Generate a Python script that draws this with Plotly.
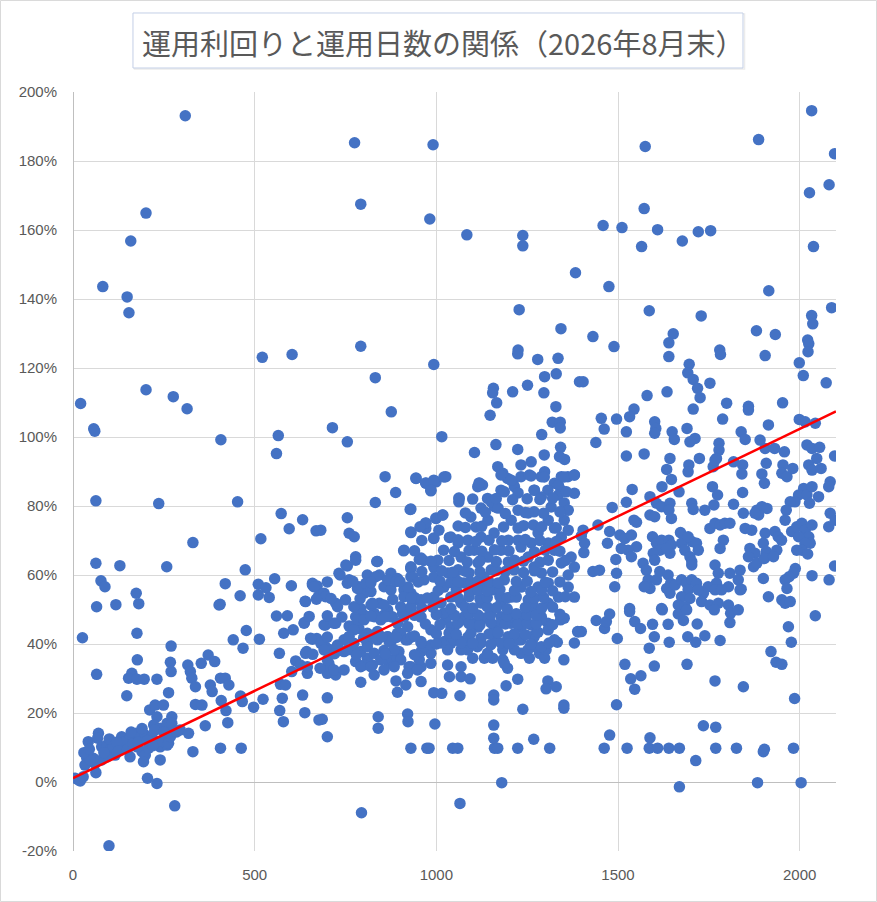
import plotly.graph_objects as go

# 運用日数 (days) / 運用利回り (%), grouped by area of the chart

# high outliers, roughly 100% and above
days_high = [309, 201, 159, 82, 149, 154, 775, 991, 792, 982, 1084, 1238, 1238, 1383, 1228, 1343, 792, 1225,
             2033, 1887, 1575, 2096, 2081, 2027, 1572, 1459, 1511, 1609, 1721, 1755, 1565, 1677, 2038, 1475,
             1915, 1586, 1729, 2088, 2033, 2036, 1431, 1652, 1640, 1881, 1933, 1489, 2022, 2025, 1780,
             521, 603, 201, 21, 276, 314, 57, 60, 407, 565, 560,
             993, 832, 876, 714, 755, 1015, 1224, 1279, 1335, 1330, 1298, 1394, 1251, 1157, 1155, 1210, 1296,
             1166, 1329, 1148, 1319, 1341, 1341, 1290,
             1640, 1782, 1905, 2023, 1999, 2010, 1696, 1692, 1707, 1753, 1404, 2073, 1719, 1726, 1635, 1580,
             1799, 1859, 1859, 1953, 1544, 1532, 1707, 1454, 1496, 1462, 1788, 1601, 1604, 1601, 1523, 1649,
             1655, 1690, 1712, 1698, 1839, 1850, 1914, 1999, 2015, 2043]
rate_high = [193.1, 164.9, 156.8, 143.6, 140.6, 136.0, 185.3, 184.7, 167.5, 163.2, 158.6, 158.4, 155.4, 147.6, 136.9, 131.4, 126.3, 125.2,
             194.6, 186.2, 184.2, 182.1, 173.1, 170.8, 166.2, 161.3, 160.7, 160.1, 159.5, 159.8, 155.2, 156.8, 155.2, 143.6,
             142.4, 136.6, 135.1, 137.5, 135.2, 132.8, 129.1, 129.9, 127.3, 130.8, 129.7, 126.2, 128.1, 127.0, 125.2,
             123.1, 123.9, 113.7, 109.7, 111.7, 108.2, 102.4, 101.7, 99.2, 100.4, 95.2,
             121.0, 117.2, 107.3, 102.7, 98.6, 100.1, 124.1, 122.5, 122.8, 118.3, 117.5, 116.0, 115.0, 114.1, 112.8, 113.1, 112.8,
             109.9, 108.8, 106.3, 104.3, 104.3, 102.6, 100.7,
             123.3, 123.9, 123.6, 124.7, 121.5, 117.8, 121.1, 118.6, 116.7, 115.6, 116.0, 115.7, 114.1, 111.4, 113.1, 112.0,
             109.8, 108.9, 107.8, 109.9, 108.1, 105.9, 108.1, 105.4, 105.2, 102.3, 105.2, 104.4, 102.5, 101.1, 101.5, 101.5,
             99.3, 102.5, 99.6, 98.6, 101.5, 99.3, 103.5, 105.1, 104.4, 104.0]

# right side, 50-100%
days_right = [1439, 1778, 1778, 1771, 1891, 1905, 1931, 1958, 2020, 2034, 2055, 1523, 1572, 1643, 1724, 1818, 1843,
              1908, 1954, 1951, 1965, 1981, 2047, 2025, 2034, 2059, 2096, 1634, 1647, 1695, 1693, 1762, 1767, 1896,
              1903, 1841, 2084, 2080, 1621, 1668, 1539, 1588, 1760, 1774, 1843, 2011, 1997, 2020, 2034, 2052, 2027,
              1987, 1974, 1484, 1523, 1606, 1620, 1643, 1640, 1647, 1588, 1601, 1551, 1544, 1703, 1707, 1739, 1764,
              1818, 1845, 1882, 1896, 1910, 1887, 1877, 1963, 1960, 2084, 2080, 2098, 1404, 1399, 1408, 1406, 1445,
              1477, 1471, 1505, 1519, 1537, 1551, 1528, 1509, 1537, 1494, 1595, 1606, 1620, 1615, 1597, 1601, 1640,
              1647, 1643, 1634, 1672, 1675, 1684, 1703, 1693, 1716, 1721, 1698, 1703, 1703, 1753, 1767, 1781, 1794,
              1808, 1790, 1781, 1767, 1776, 1771, 1808, 1836, 1831, 1839, 1850, 1868, 1863, 1877, 1859, 1873, 1882,
              1905, 1900, 1908, 1932, 1941, 1950, 1937, 1903, 1928, 1978, 1992, 2006, 2015, 2025, 1997, 2034, 2029,
              2015, 2006, 2022, 1992, 2096, 1988, 1983, 1971, 1960, 1965, 2081, 2034, 1900, 1914, 1951, 1960, 1974,
              1804, 1836, 1748, 1767, 1785, 1735, 1730, 1753, 1776, 1804, 1569, 1578, 1583, 1578, 1588, 1606, 1615,
              1638, 1645, 1634, 1643, 1657, 1675, 1689, 1703, 1716, 1693, 1675, 1698, 1721, 1666, 1620, 1684, 1532,
              1491, 1496, 1431, 1449, 1572]
rate_right = [98.4, 98.2, 96.2, 93.8, 99.1, 96.7, 96.7, 95.7, 97.7, 96.7, 97.0, 94.5, 95.1, 93.8, 93.8, 92.8, 91.9,
              92.4, 91.9, 89.5, 88.5, 90.9, 93.8, 91.9, 90.4, 90.9, 94.5, 90.6, 87.7, 91.9, 89.9, 91.4, 93.3, 89.3,
              86.6, 89.3, 87.0, 85.6, 85.6, 84.1, 84.8, 82.7, 85.6, 83.2, 83.9, 85.1, 83.2, 83.2, 85.6, 82.7, 80.8,
              81.2, 81.2, 79.6, 81.1, 80.8, 79.8, 80.8, 78.8, 76.4, 77.4, 76.9, 75.3, 75.9, 80.8, 79.0, 78.8, 80.3,
              80.5, 77.9, 78.8, 79.8, 79.3, 77.4, 77.9, 78.8, 75.9, 77.9, 74.0, 75.9, 73.0, 71.3, 69.2, 66.5, 74.5,
              72.6, 69.2, 71.6, 70.6, 71.6, 68.2, 67.2, 67.7, 65.3, 64.5, 71.1, 69.2, 70.1, 67.2, 66.3, 64.3, 70.1,
              68.7, 66.3, 67.7, 72.3, 69.2, 67.2, 69.7, 71.1, 69.2, 67.2, 65.3, 63.9, 62.9, 73.5, 75.0, 74.5, 75.0,
              75.0, 70.1, 67.7, 62.9, 60.5, 57.6, 60.5, 61.4, 58.6, 55.9, 73.5, 73.0, 67.7, 66.3, 65.3, 62.4, 63.4,
              72.1, 69.2, 66.8, 72.6, 71.1, 70.1, 67.2, 64.8, 65.3, 72.6, 74.0, 75.0, 73.0, 71.1, 71.1, 74.5, 69.2,
              69.2, 67.2, 66.1, 67.2, 62.6, 61.9, 60.5, 59.5, 58.6, 56.1, 58.6, 59.8, 59.0, 53.7, 52.8, 51.8, 52.3,
              56.6, 55.7, 56.6, 55.7, 55.7, 54.7, 52.3, 51.3, 51.8, 51.3, 63.4, 61.4, 58.6, 57.1, 56.1, 58.6, 61.0,
              60.0, 57.6, 56.1, 54.7, 57.1, 58.6, 57.6, 58.6, 57.6, 55.7, 53.7, 53.2, 55.7, 51.3, 50.3, 50.8, 50.3,
              56.6, 60.5, 61.0, 61.4, 56.6]

# right side, below 50%
days_right_low = [2043, 1440, 1463, 1468, 1477, 1498, 1399, 1532, 1546, 1562, 1595, 1600, 1586, 1600, 1622, 1638,
                  1641, 1666, 1680, 1689, 1692, 1714, 1718, 1739, 1765, 1781, 1808, 1810, 1831, 1519, 1535, 1563,
                  1546, 1496, 1690, 1767, 1845, 1921, 1935, 1951, 1969, 1977, 1986, 1477, 1588, 1735, 1769, 1462,
                  1525, 1586, 1609, 1640, 1669, 1769, 1826, 1903, 1983, 1900, 1714, 1669, 1884, 2004]
rate_right_low = [48.2, 46.8, 44.5, 46.5, 48.7, 41.6, 43.6, 49.4, 46.5, 44.5, 45.7, 42.1, 38.8, 33.6, 49.9, 45.7,
                  40.5, 48.7, 46.8, 49.9, 42.1, 40.5, 45.8, 42.4, 49.9, 41.0, 46.2, 48.9, 49.9, 34.1, 29.9, 30.8,
                  26.9, 22.4, 34.1, 29.3, 27.6, 37.8, 34.7, 34.1, 45.0, 40.5, 24.2, 13.6, 12.8, 16.3, 15.9, 9.8,
                  9.8, 9.8, 9.8, 9.8, 9.8, 9.8, 9.8, 9.5, 9.8, 8.8, 6.2, -1.4, -0.2, -0.2]

# middle, below the dense core
days_mid_low = [794, 1065, 1180, 930, 974, 980, 1045, 1059, 1160, 1169, 1224, 1312, 1268, 1158, 1158, 700, 840, 840,
                921, 922, 996, 686, 1238, 1351, 1351, 700, 1065, 1158, 1158, 1192, 792, 893, 916, 889, 958, 993,
                1015, 1224, 1307, 1302, 1330, 1036, 1068, 1093, 1068, 1031, 700, 723, 704, 709, 829, 824, 810, 870,
                879, 897, 893, 925, 958, 953, 985, 985, 958, 778, 801, 769, 792, 773, 856, 875, 916, 1100, 1132,
                1155, 1183, 1196, 1187, 1233, 1256, 1284, 1298, 1302, 1270, 1333, 1351, 1342, 1389, 695, 723, 760,
                787, 695, 709, 728, 746, 967, 985, 958, 1022, 1040, 1068, 1086, 1113,
                778, 801, 829, 856, 879, 907, 838, 866, 893, 810, 824,
                1026, 1049, 1077, 1105, 1132, 1160, 1178, 1206, 1233, 1261, 1289, 1307, 1270, 1233, 1197, 1160,
                1123, 1086, 1049, 1031, 1068, 1141, 1183, 1215, 1252, 1289]
rate_mid_low = [-8.9, -6.2, -0.2, 9.8, 9.8, 9.8, 9.8, 9.8, 9.8, 9.8, 9.8, 9.8, 12.4, 12.7, 16.5, 13.1, 18.9, 15.6,
                19.7, 17.5, 16.8, 18.2, 21.1, 22.3, 21.4, 24.4, 25.0, 25.2, 23.8, 27.9, 28.9, 26.0, 28.1, 29.3, 29.1, 25.9,
                25.7, 29.8, 29.3, 27.0, 27.6, 30.5, 30.5, 29.9, 33.4, 33.9, 31.5, 31.0, 34.4, 33.0, 31.0, 33.9, 35.9, 34.4,
                35.4, 37.8, 35.9, 33.4, 33.4, 35.4, 34.4, 37.3, 37.8, 34.9, 33.9, 38.3, 37.8, 40.2, 38.1, 40.7, 41.2, 35.9, 35.9,
                35.9, 35.4, 33.0, 34.4, 37.3, 35.9, 37.3, 35.9, 38.3, 39.2, 40.5, 35.4, 47.0, 43.6, 45.5, 46.0, 45.2,
                44.5, 39.2, 38.3, 39.7, 37.8, 39.2, 39.7, 40.7, 40.7, 40.2, 40.7, 38.3, 39.2,
                47.9, 48.4, 48.9, 48.4, 47.9, 48.9, 43.6, 42.1, 43.1, 40.2, 42.1,
                47.0, 45.0, 47.9, 46.0, 47.5, 45.0, 47.9, 46.0, 47.9, 45.5, 47.9, 46.0, 42.6, 41.2, 42.1, 42.1,
                41.7, 41.2, 41.2, 38.3, 38.3, 37.3, 38.3, 38.3, 38.3, 39.2]

# left side, short terms
days_left = [63, 236, 453, 573, 632, 595, 669, 330, 517, 63, 129, 258, 474, 77, 88, 174, 181, 118, 65, 419, 460, 402,
             405, 510, 531, 510, 540, 555, 601, 639, 659, 672, 676,
             99, 280, 205, 231, 15, 6, 20, 26, 176, 65, 148, 177, 162, 153, 176, 196, 231, 270, 268, 270, 263, 211,
             226, 231, 249, 222, 240, 259, 272, 272, 316, 323, 327, 337, 353, 372, 390, 378, 383, 406, 419, 429, 337,
             355, 408, 421, 364, 426, 330, 406, 463, 441, 468, 477, 513, 461, 466, 497, 523, 560, 590, 637, 580, 606,
             659, 671, 568, 613, 626, 643, 645, 602, 571, 585, 576, 569, 579, 632, 638, 677, 680,
             42, 70, 68, 38, 52, 33, 61, 63, 79, 93, 102, 116, 111, 134, 143, 157, 174, 185, 199, 217, 176, 190, 199,
             194, 157, 139, 240, 259, 240, 208, 93, 79, 56, 47, 28, 212, 231, 249, 263, 268, 263, 295, 318,
             30, 45, 85, 100, 120, 125, 150, 165, 180, 205, 220, 225, 250, 285, 190, 160]
rate_left = [81.5, 80.7, 81.2, 77.8, 76.0, 73.4, 72.8, 69.4, 70.5, 63.4, 62.7, 62.4, 61.5, 58.3, 56.6, 54.7, 51.7, 51.4,
             50.8, 57.5, 54.0, 51.3, 51.5, 57.3, 56.3, 54.2, 53.5, 58.9, 56.9, 52.4, 57.1, 56.8, 53.9,
             -18.5, -6.9, 1.1, -0.4, 0.6, 1.1, 0.3, 41.8, 43.1, 31.2, 25.0, 35.4, 31.5, 30.1, 29.8, 29.8, 29.8, 39.4,
             34.7, 32.0, 25.9, 20.9, 22.3, 18.9, 22.3, 16.5, 15.6, 17.0, 18.9, 17.0, 33.9, 32.0, 30.1, 27.6, 34.4,
             36.8, 34.9, 28.1, 26.2, 30.1, 30.1, 28.1, 22.5, 22.3, 23.6, 20.7, 16.3, 17.2, 8.8, 9.8, 9.8, 41.2, 38.8,
             43.9, 41.4, 24.9, 23.3, 21.7, 24.0, 48.1, 48.2, 46.2, 43.1, 44.1, 41.4, 41.6, 37.3, 35.1, 33.9, 37.8,
             31.5, 32.0, 28.3, 28.1, 24.3, 20.7, 17.5, 25.2, 20.1, 18.0, 33.0,
             11.7, 14.1, 12.7, 6.9, 5.9, 4.9, 5.4, 2.7, 10.2, 10.7, 9.3, 7.8, 10.2, 13.1, 11.7, 12.7, 14.1, 13.1,
             13.6, 13.1, 10.2, 8.8, 7.8, 5.9, 7.3, 11.2, 10.2, 10.7, 6.4, 9.8, 7.3, 6.4, 6.9, 6.4, 1.5, 11.7, 11.7,
             11.7, 11.2, 13.1, 14.1, 15.1, 14.1,
             8.5, 9.5, 8.5, 12.5, 11.5, 9.0, 9.5, 11.0, 11.5, 12.0, 10.5, 15.0, 14.5, 14.5, 15.5, 14.5]

# middle, 30-100%
days_mid = [859, 944, 971, 999, 1026, 985, 888, 832, 928, 755, 1063, 1062, 1118, 1127, 1183, 1196, 971, 971, 999,
            1017, 930, 760, 774, 993, 1036, 910, 778, 836, 953, 965, 755, 682, 735, 930, 1105, 1164, 1224, 1342,
            1297, 1353, 1339, 1261, 1233,
            751, 778, 838, 930, 732, 760, 810, 843, 875, 893, 930, 659, 691, 640, 663, 728, 787, 801, 820, 856, 875,
            911, 930, 948, 792, 820, 843, 866, 902, 930, 636, 691, 718, 764, 783, 801, 829, 847, 875, 893, 921, 654,
            682, 746, 773, 810, 838, 866, 902, 921, 640, 691, 728, 755, 810, 829, 847, 870, 884, 902, 930, 645, 700,
            718, 746, 792, 820, 856, 884, 921, 948,
            695, 755, 783, 806, 833, 866, 889, 911, 824, 856, 723, 773,
            1169, 1211, 1233, 1256, 1289, 1298, 1325, 1344, 1362, 1380, 1215, 1270, 1307, 1344, 1380, 1178, 1141,
            1160, 1114]
rate_mid = [88.5, 88.0, 86.6, 87.0, 88.5, 84.4, 83.9, 81.0, 79.0, 76.6, 82.2, 81.2, 86.6, 86.1, 89.5, 88.0, 75.0, 73.5, 76.4,
            77.4, 72.3, 72.1, 71.1, 70.6, 70.9, 67.0, 65.3, 63.9, 64.5, 64.2, 62.6, 73.0, 60.0, 61.9, 95.5, 97.8, 96.4, 97.0,
            94.8, 93.5, 94.3, 92.8, 91.9,
            62.9, 64.3, 63.9, 62.4, 60.5, 58.6, 60.0, 60.0, 60.5, 59.0, 59.5, 57.6, 54.7, 52.3, 56.6, 50.8, 56.6, 54.7, 55.2, 56.6, 55.7,
            55.7, 54.7, 52.8, 50.3, 51.3, 51.8, 49.9, 50.8, 49.9, 46.0, 45.5, 46.0, 45.0, 47.0, 47.0, 47.9, 47.0, 47.9, 46.0, 45.0, 41.7,
            40.2, 41.2, 44.1, 43.1, 41.2, 42.1, 43.1, 41.2, 37.3, 38.3, 39.2, 38.3, 39.2, 37.3, 35.4, 40.7, 38.3, 35.4, 33.4, 33.4, 35.4,
            32.5, 32.5, 33.4, 33.4, 32.5, 33.4, 31.5, 32.5,
            53.7, 57.6, 56.1, 57.6, 59.5, 58.6, 58.1, 53.7, 51.8, 51.3, 51.8, 50.8,
            91.4, 87.0, 88.5, 89.0, 88.5, 89.9, 86.6, 88.5, 88.5, 89.0, 85.6, 84.6, 84.6, 84.6, 83.7, 84.6, 82.2,
            79.8, 85.6]

# dense core around 900-1400 days
days_core = [944, 971, 993, 1021, 1118, 1178, 1206, 1261, 1297, 1336, 1352, 1380,
             985, 1062, 1187, 1225, 1269, 1289, 1336, 1358, 1352, 930, 1151, 1123, 1170, 1225, 1269, 1316,
             971, 999, 1018, 930, 993, 1007, 1040, 1095, 1109, 1142, 1087, 1123, 1159, 1206, 1225, 1198, 1253, 1267,
             1280, 1308, 1325, 1344, 1352, 1363, 1225, 1261, 1308, 1363,
             911, 958, 930, 935, 993, 1004, 1060, 1068, 1060, 1104, 1115, 1142, 1151, 1178, 1198, 1214, 1233, 1253,
             1269, 1289, 1308, 1325, 1344, 1371, 1380, 1363, 1131, 1090, 1032,
             922, 966, 993, 1021, 1049, 1076, 1104, 1131, 1159, 1187, 1206, 1233, 1253, 1280, 1308, 1336, 1363, 1380,
             1308, 1269, 1178, 1123, 1068, 1013, 958, 993, 930,
             911, 958, 985, 1021, 1040, 1068, 1087, 1115, 1142, 1159, 1178, 1206, 1233, 1261, 1289, 1308, 1269, 1225,
             1178, 1123, 1068, 1013, 958, 1325, 1352, 1391, 1380, 930]
rate_core = [88.1, 86.7, 87.5, 88.4, 86.7, 89.0, 87.5, 88.7, 88.4, 86.1, 88.4, 89.0,
             84.6, 82.3, 84.1, 83.8, 84.6, 82.6, 83.2, 84.1, 80.9, 79.1, 81.2, 79.4, 79.4, 78.8, 78.3, 79.7,
             75.1, 76.5, 77.4, 72.5, 70.7, 73.0, 71.0, 76.8, 73.9, 75.9, 70.1, 71.0, 72.2, 75.9, 73.6, 70.1, 78.0, 74.5,
             72.2, 75.9, 73.6, 71.0, 75.9, 78.8, 70.1, 69.3, 69.3, 73.0,
             67.2, 64.9, 62.0, 59.4, 62.3, 64.3, 69.3, 65.2, 61.5, 67.2, 63.5, 65.2, 61.5, 67.2, 63.8, 61.5, 68.1, 65.2,
             62.3, 60.6, 64.3, 67.2, 63.5, 65.2, 62.3, 60.0, 59.4, 60.6, 60.6,
             56.5, 58.6, 59.4, 56.5, 59.4, 57.7, 55.7, 57.7, 55.7, 58.6, 53.6, 56.5, 52.8, 56.5, 57.7, 53.6, 56.5, 53.6,
             51.9, 50.7, 51.9, 51.9, 51.9, 51.9, 52.8, 53.6, 50.7,
             47.8, 47.8, 44.1, 49.0, 44.9, 47.0, 42.0, 44.9, 47.8, 43.2, 46.1, 47.8, 44.9, 49.0, 47.0, 44.1, 42.0, 41.2,
             40.3, 40.3, 40.3, 40.3, 40.3, 41.2, 47.5, 43.5, 40.3, 42.0]

# extra points hidden inside the solid-looking parts of the core
days_core_fill = [1000, 1035, 1055, 1095, 1145, 1170, 1215, 1245, 1280,
                  970, 1010, 1060, 1090, 1120, 1150, 1190, 1225, 1250, 1275, 1320,
                  1000, 1050, 1090, 1115, 1150, 1195, 1220, 1250, 1275, 1340,
                  960, 990, 1040, 1080, 1100, 1140, 1165, 1195, 1245, 1290, 1320,
                  940, 975, 1040, 1060, 1090, 1120, 1140, 1175, 1195, 1220, 1270, 1295, 1355,
                  1005, 1055, 1090, 1115, 1140, 1175, 1215, 1260, 1290, 1320,
                  950, 1010, 1040, 1060, 1095, 1115, 1145, 1170, 1220, 1250, 1300, 1340,
                  960, 1015, 1045, 1080, 1120, 1165, 1190, 1240, 1270, 1320,
                  985, 1035, 1085, 1120, 1165, 1215, 1240, 1285, 1355,
                  940, 1020, 1050, 1090, 1125, 1160, 1200, 1270, 1300, 1340,
                  960, 1060, 1110, 1145, 1180, 1245, 1285, 1330,
                  955, 1060, 1080, 1125, 1185, 1240, 1290, 1330,
                  1080, 1135, 1190, 1245, 1295, 1340,
                  1100, 1165, 1210, 1250, 1285, 1320,
                  1000, 1100, 1150, 1200, 1260, 1310,
                  660, 720, 780, 860, 940,
                  700, 760, 800, 850, 890, 940,
                  650, 700, 740, 820, 860, 940,
                  670, 710, 750, 790, 880, 930,
                  700, 770, 820, 900]
rate_core_fill = [43.0, 43.2, 42.8, 43.1, 42.9, 43.3, 43.0, 42.7, 43.4,
                  45.8, 45.6, 46.1, 45.9, 45.5, 46.2, 45.8, 45.7, 46.0, 45.9, 45.6,
                  48.5, 48.3, 48.7, 48.4, 48.6, 48.2, 48.8, 48.5, 48.3, 48.6,
                  50.5, 50.7, 50.3, 50.6, 50.4, 50.8, 50.5, 50.2, 50.6, 50.4, 50.7,
                  53.5, 53.3, 53.6, 53.4, 53.7, 53.2, 53.5, 53.8, 53.4, 53.6, 53.3, 53.5, 53.7,
                  55.5, 55.7, 55.3, 55.6, 55.4, 55.8, 55.5, 55.2, 55.6, 55.4,
                  58.0, 58.2, 57.8, 58.1, 57.9, 58.3, 58.0, 57.7, 58.1, 58.2, 57.9, 58.0,
                  61.0, 61.2, 60.8, 61.1, 60.9, 61.3, 61.0, 60.7, 61.2, 60.9,
                  64.0, 64.2, 63.8, 64.1, 63.9, 64.3, 64.0, 63.7, 64.2,
                  67.0, 67.2, 66.8, 67.1, 66.9, 67.3, 67.0, 66.7, 67.2, 66.9,
                  70.0, 70.2, 69.8, 70.1, 69.9, 70.3, 70.0, 69.7,
                  74.0, 74.2, 73.8, 74.1, 73.9, 74.3, 74.0, 73.7,
                  78.0, 78.2, 77.8, 78.1, 77.9, 78.3,
                  82.0, 82.2, 81.8, 82.1, 81.9, 82.3,
                  40.0, 40.2, 39.8, 40.1, 39.9, 40.3,
                  37.0, 37.2, 36.8, 37.1, 36.9,
                  42.0, 42.2, 41.8, 42.1, 41.9, 42.3,
                  48.0, 48.2, 47.8, 48.1, 47.9, 48.3,
                  53.0, 53.2, 52.8, 53.1, 52.9, 53.3,
                  58.0, 58.2, 57.8, 58.1]

days = days_high + days_right + days_right_low + days_mid_low + days_left + days_mid + days_core + days_core_fill
rates = rate_high + rate_right + rate_right_low + rate_mid_low + rate_left + rate_mid + rate_core + rate_core_fill

# linear trend line as drawn in the reference (start / end)
trend_days = [0, 2100]
trend_rates = [1.1, 107.4]

title_text = "運用利回りと運用日数の関係（2026年8月末）"
x_ticks = [0, 500, 1000, 1500, 2000]
x_labels = ["0", "500", "1000", "1500", "2000"]
y_ticks = [-20, 0, 20, 40, 60, 80, 100, 120, 140, 160, 180, 200]
y_labels = ["-20%", "0%", "20%", "40%", "60%", "80%", "100%", "120%", "140%", "160%", "180%", "200%"]

fig = go.Figure()
fig.add_trace(go.Scatter(
    x=days, y=rates, mode="markers",
    marker=dict(color="#4472c4", size=11.5, line=dict(width=0)),
    hoverinfo="x+y", showlegend=False,
))
fig.add_trace(go.Scatter(
    x=trend_days, y=trend_rates, mode="lines",
    line=dict(color="#ff0000", width=2.5),
    hoverinfo="skip", showlegend=False,
))

tick_font = dict(family="Liberation Sans, Arial, sans-serif", size=15, color="#595959")

fig.update_layout(
    width=877, height=902,
    margin=dict(l=73, r=41, t=92, b=51),
    paper_bgcolor="white", plot_bgcolor="white",
    xaxis=dict(
        range=[0, 2100], tickvals=x_ticks, ticktext=x_labels, showgrid=True, gridcolor="#d9d9d9", gridwidth=1,
        zeroline=True, zerolinecolor="#bfbfbf", zerolinewidth=1, showline=False,
        ticks="", tickfont=tick_font, ticklabelstandoff=13,
    ),
    yaxis=dict(
        range=[-20, 200], tickvals=y_ticks, ticktext=y_labels, showgrid=True, gridcolor="#d9d9d9", gridwidth=1,
        zeroline=True, zerolinecolor="#bfbfbf", zerolinewidth=1, showline=False,
        ticks="", tickfont=tick_font, ticklabelstandoff=15,
    ),
    shapes=[
        # outer chart border
        dict(type="rect", xref="paper", yref="paper", x0=-0.0950, x1=1.0531, y0=-0.0665, y1=1.1206,
             line=dict(color="#d9d9d9", width=1), layer="below"),
        # title box shadow + box
        dict(type="rect", xref="paper", yref="paper", x0=0.0806, x1=0.8801, y0=1.0303, y1=1.1028,
             line=dict(color="#ececec", width=1.5), layer="below"),
        dict(type="rect", xref="paper", yref="paper", x0=0.0786, x1=0.8781, y0=1.0316, y1=1.1041,
             line=dict(color="#c3cfe6", width=1), fillcolor="white", layer="below"),
    ],
    annotations=[
        dict(text=title_text, xref="paper", yref="paper", x=0.0878, y=1.0659,
             xanchor="left", yanchor="middle", showarrow=False,
             font=dict(family="Noto Sans CJK JP, Noto Sans, sans-serif", size=29, color="#595959")),
    ],
)

# the page's default body margin would push the chart off its place
fig.write_html("out.html", config={"displayModeBar": False},
               post_script="document.body.style.margin='0';")
